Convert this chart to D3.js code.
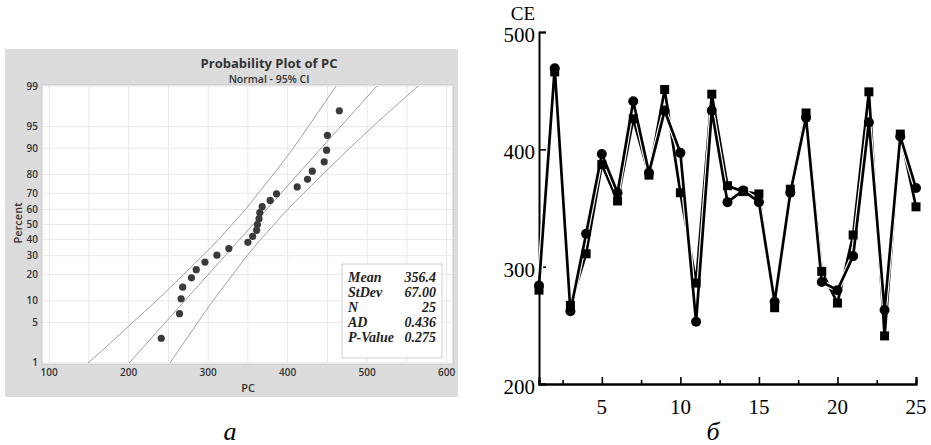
<!DOCTYPE html>
<html>
<head>
<meta charset="utf-8">
<script src="https://cdn.jsdelivr.net/npm/d3@7"></script>
<style>
  body { margin: 0; background: #fff; }
  svg { display: block; }
</style>
</head>
<body>
<div id="chart"></div>
<script>
// ---- data: panel a (probability plot of PC) ----
var pcValues = [241, 264, 266, 268, 279, 285, 296, 311, 326, 350, 356, 361, 362, 364, 365, 368, 378, 386, 412, 425, 431, 446, 449, 450, 465];
var pcPercent = [2.8, 6.7, 10.6, 14.6, 18.5, 22.4, 26.4, 30.3, 34.3, 38.2, 42.1, 46.1, 50, 53.9, 57.9, 61.8, 65.7, 69.7, 73.6, 77.6, 81.5, 85.4, 89.4, 93.3, 97.2];
var bandPercent = [1, 2, 5, 10, 20, 30, 40, 50, 60, 70, 80, 90, 95, 98, 99];
var bandLeft = [149, 172, 205, 235, 269, 293, 313, 330, 347, 363, 382, 407, 426, 447, 461];
var bandRight = [252, 266, 287, 306, 331, 349, 366, 383, 400, 420, 444, 478, 507, 541, 564];
var fitPercent = [1, 99];
var fitValues = [200.6, 512.2];
var pcTicks = [100, 200, 300, 400, 500, 600];
var percentTicks = [1, 5, 10, 20, 30, 40, 50, 60, 70, 80, 90, 95, 99];
var statLabels = ["Mean", "StDev", "N", "AD", "P-Value"];
var statValues = ["356.4", "67.00", "25", "0.436", "0.275"];

// ---- data: panel б (CE by sample) ----
var sampleNo = d3.range(1, 26);
var ceCircle = [284, 469, 262, 328, 396, 363, 441, 380, 433, 397, 253, 433, 355, 365, 355, 270, 363, 427, 287, 280, 309, 423, 263, 411, 367];
var ceSquare = [280, 466, 267, 311, 387, 356, 426, 378, 451, 363, 286, 447, 369, 364, 362, 265, 366, 431, 296, 269, 327, 449, 241, 413, 351];
var ceTicks = [200, 300, 400, 500];
var sampleTicks = [5, 10, 15, 20, 25];

var width = 931, height = 445;

var svg = d3.select('#chart').append('svg')
  .attr('width', width)
  .attr('height', height);

// inverse normal (Acklam) for the probability axis
function probit(p) {
  var a = [-39.6968302866538, 220.946098424521, -275.928510446969, 138.357751867269, -30.6647980661472, 2.50662827745924];
  var b = [-54.4760987982241, 161.585836858041, -155.698979859887, 66.8013118877197, -13.2806815528857];
  var c = [-0.00778489400243029, -0.322396458041136, -2.40075827716184, -2.54973253934373, 4.37466414146497, 2.93816398269878];
  var d = [0.00778469570904146, 0.32246712907004, 2.445134137143, 3.75440866190742];
  var q, r;
  if (p < 0.02425) {
    q = Math.sqrt(-2 * Math.log(p));
    return (((((c[0]*q+c[1])*q+c[2])*q+c[3])*q+c[4])*q+c[5]) / ((((d[0]*q+d[1])*q+d[2])*q+d[3])*q+1);
  } else if (p > 1 - 0.02425) {
    q = Math.sqrt(-2 * Math.log(1 - p));
    return -(((((c[0]*q+c[1])*q+c[2])*q+c[3])*q+c[4])*q+c[5]) / ((((d[0]*q+d[1])*q+d[2])*q+d[3])*q+1);
  }
  q = p - 0.5; r = q * q;
  return (((((a[0]*r+a[1])*r+a[2])*r+a[3])*r+a[4])*r+a[5])*q / (((((b[0]*r+b[1])*r+b[2])*r+b[3])*r+b[4])*r+1);
}

// ================= panel a =================
var pa = {left: 42, top: 85, right: 453, bottom: 364};

svg.append('rect')
  .attr('x', 5).attr('y', 49)
  .attr('width', 453).attr('height', 348)
  .attr('fill', '#dcdcdc');

svg.append('rect')
  .attr('x', pa.left).attr('y', pa.top)
  .attr('width', pa.right - pa.left).attr('height', pa.bottom - pa.top)
  .attr('fill', '#fff')
  .attr('stroke', '#c8c8c8');

var xPC = d3.scaleLinear().domain([91, 608]).range([pa.left, pa.right]);
var zScale = d3.scaleLinear().domain([-2.344, 2.344]).range([pa.bottom, pa.top]);
var yPct = function(p) { return zScale(probit(p / 100)); };

var ga = svg.append('g');

ga.append('clipPath').attr('id', 'clipA')
  .append('rect')
  .attr('x', pa.left).attr('y', pa.top)
  .attr('width', pa.right - pa.left).attr('height', pa.bottom - pa.top);

// grid
ga.append('g').selectAll('line')
  .data(d3.range(100, 601, 50))
  .enter().append('line')
  .attr('x1', d => xPC(d)).attr('x2', d => xPC(d))
  .attr('y1', pa.top).attr('y2', pa.bottom)
  .attr('stroke', '#e8e8e8');

ga.append('g').selectAll('line')
  .data(percentTicks)
  .enter().append('line')
  .attr('x1', pa.left).attr('x2', pa.right)
  .attr('y1', d => yPct(d)).attr('y2', d => yPct(d))
  .attr('stroke', '#e8e8e8');

// tick labels
ga.append('g').selectAll('text')
  .data(pcTicks)
  .enter().append('text')
  .attr('x', d => xPC(d))
  .attr('y', pa.bottom + 12)
  .attr('text-anchor', 'middle')
  .style('font', '600 10px "Open Sans", sans-serif')
  .style('fill', '#333')
  .text(d => d);

ga.append('g').selectAll('text')
  .data(percentTicks)
  .enter().append('text')
  .attr('x', pa.left - 4)
  .attr('y', d => yPct(d) + 3.5)
  .attr('text-anchor', 'end')
  .style('font', '600 10px "Open Sans", sans-serif')
  .style('fill', '#333')
  .text(d => d);

// fitted line + CI bands
var lineA = d3.line().x(d => xPC(d[0])).y(d => yPct(d[1])).curve(d3.curveMonotoneY);

ga.append('path')
  .datum(fitValues.map((v, i) => [v, fitPercent[i]]))
  .attr('clip-path', 'url(#clipA)')
  .attr('d', d3.line().x(d => xPC(d[0])).y(d => yPct(d[1])))
  .attr('fill', 'none').attr('stroke', '#a0a0a0').attr('stroke-width', 1);

[bandLeft, bandRight].forEach(function(band) {
  ga.append('path')
    .datum(band.map((v, i) => [v, bandPercent[i]]))
    .attr('clip-path', 'url(#clipA)')
    .attr('d', lineA)
    .attr('fill', 'none').attr('stroke', '#a0a0a0').attr('stroke-width', 1);
});

// points
ga.append('g').selectAll('circle')
  .data(pcValues)
  .enter().append('circle')
  .attr('cx', d => xPC(d))
  .attr('cy', (d, i) => yPct(pcPercent[i]))
  .attr('r', 3.6)
  .attr('fill', '#3a3a3a');

// titles
ga.append('text')
  .attr('x', 269).attr('y', 68)
  .attr('text-anchor', 'middle')
  .style('font', 'bold 13px "Open Sans", sans-serif')
  .style('fill', '#333')
  .text('Probability Plot of PC');

ga.append('text')
  .attr('x', 269).attr('y', 83)
  .attr('text-anchor', 'middle')
  .style('font', '600 10.5px "Open Sans", sans-serif')
  .style('fill', '#333')
  .text('Normal - 95% CI');

ga.append('text')
  .attr('transform', 'translate(22,223) rotate(-90)')
  .attr('text-anchor', 'middle')
  .style('font', '600 11px "Open Sans", sans-serif')
  .style('fill', '#333')
  .text('Percent');

ga.append('text')
  .attr('x', 248).attr('y', 392)
  .attr('text-anchor', 'middle')
  .style('font', '600 11px "Open Sans", sans-serif')
  .style('fill', '#333')
  .text('PC');

// stats box
ga.append('rect')
  .attr('x', 342).attr('y', 264)
  .attr('width', 100).attr('height', 94)
  .attr('fill', '#fff').attr('stroke', '#cfcfcf');

var stats = ga.append('g');
stats.selectAll('.lab')
  .data(statLabels)
  .enter().append('text')
  .attr('x', 348)
  .attr('y', (d, i) => 282 + i * 15)
  .style('font', 'italic bold 14px "Liberation Serif", serif')
  .style('fill', '#222')
  .text(d => d);
stats.selectAll('.val')
  .data(statValues)
  .enter().append('text')
  .attr('x', 436)
  .attr('y', (d, i) => 282 + i * 15)
  .attr('text-anchor', 'end')
  .style('font', 'italic bold 14px "Liberation Serif", serif')
  .style('fill', '#222')
  .text(d => d);

svg.append('text')
  .attr('x', 230).attr('y', 440)
  .attr('text-anchor', 'middle')
  .style('font', 'italic 26px "Liberation Serif", serif')
  .text('а');

// ================= panel б =================
var xS = d3.scaleLinear().domain([1, 25]).range([539, 916]);
var yCE = d3.scaleLinear().domain([200, 500]).range([384, 32]);

var gb = svg.append('g');

var xAxis = d3.axisTop(xS)
  .tickValues(sampleTicks)
  .tickSize(7)
  .tickFormat('');
var xMinor = d3.axisTop(xS)
  .tickValues([2.5, 7.5, 12.5, 17.5, 22.5])
  .tickSize(4)
  .tickFormat('');
var yAxis = d3.axisRight(yCE)
  .tickValues(ceTicks)
  .tickSize(7)
  .tickFormat('');

gb.append('g').attr('transform', 'translate(0,384)').call(xAxis);
gb.append('g').attr('transform', 'translate(0,384)').call(xMinor);
gb.append('g').attr('transform', 'translate(539,0)').call(yAxis);
gb.selectAll('.domain').attr('stroke', '#000').attr('stroke-width', 2);
gb.selectAll('.tick line').attr('stroke', '#000').attr('stroke-width', 1.6);

gb.append('g').selectAll('text')
  .data(sampleTicks)
  .enter().append('text')
  .attr('x', d => xS(d))
  .attr('y', 414)
  .attr('text-anchor', 'middle')
  .style('font', '21px "Liberation Serif", serif')
  .text(d => d);

gb.append('g').selectAll('text')
  .data(ceTicks)
  .enter().append('text')
  .attr('x', 535)
  .attr('y', d => yCE(d) + 10)
  .attr('text-anchor', 'end')
  .style('font', '21px "Liberation Serif", serif')
  .text(d => d);

gb.append('text')
  .attr('x', 523).attr('y', 20)
  .attr('text-anchor', 'middle')
  .style('font', '19px "Liberation Serif", serif')
  .text('CE');

var lineB = d3.line().x((d, i) => xS(sampleNo[i])).y(d => yCE(d));

[ceSquare, ceCircle].forEach(function(series) {
  gb.append('path').datum(series).attr('d', lineB)
    .attr('fill', 'none').attr('stroke', '#fff').attr('stroke-width', 5)
    .attr('stroke-linejoin', 'miter');
  gb.append('path').datum(series).attr('d', lineB)
    .attr('fill', 'none').attr('stroke', '#000').attr('stroke-width', 2.7)
    .attr('stroke-linejoin', 'miter');
});

gb.append('g').selectAll('rect')
  .data(ceSquare)
  .enter().append('rect')
  .attr('x', (d, i) => xS(sampleNo[i]) - 4.5)
  .attr('y', d => yCE(d) - 4.5)
  .attr('width', 9).attr('height', 9)
  .attr('fill', '#000');

gb.append('g').selectAll('circle')
  .data(ceCircle)
  .enter().append('circle')
  .attr('cx', (d, i) => xS(sampleNo[i]))
  .attr('cy', d => yCE(d))
  .attr('r', 5)
  .attr('fill', '#000');

svg.append('text')
  .attr('x', 713).attr('y', 440)
  .attr('text-anchor', 'middle')
  .style('font', 'italic 26px "Liberation Serif", serif')
  .text('б');
</script>
</body>
</html>
